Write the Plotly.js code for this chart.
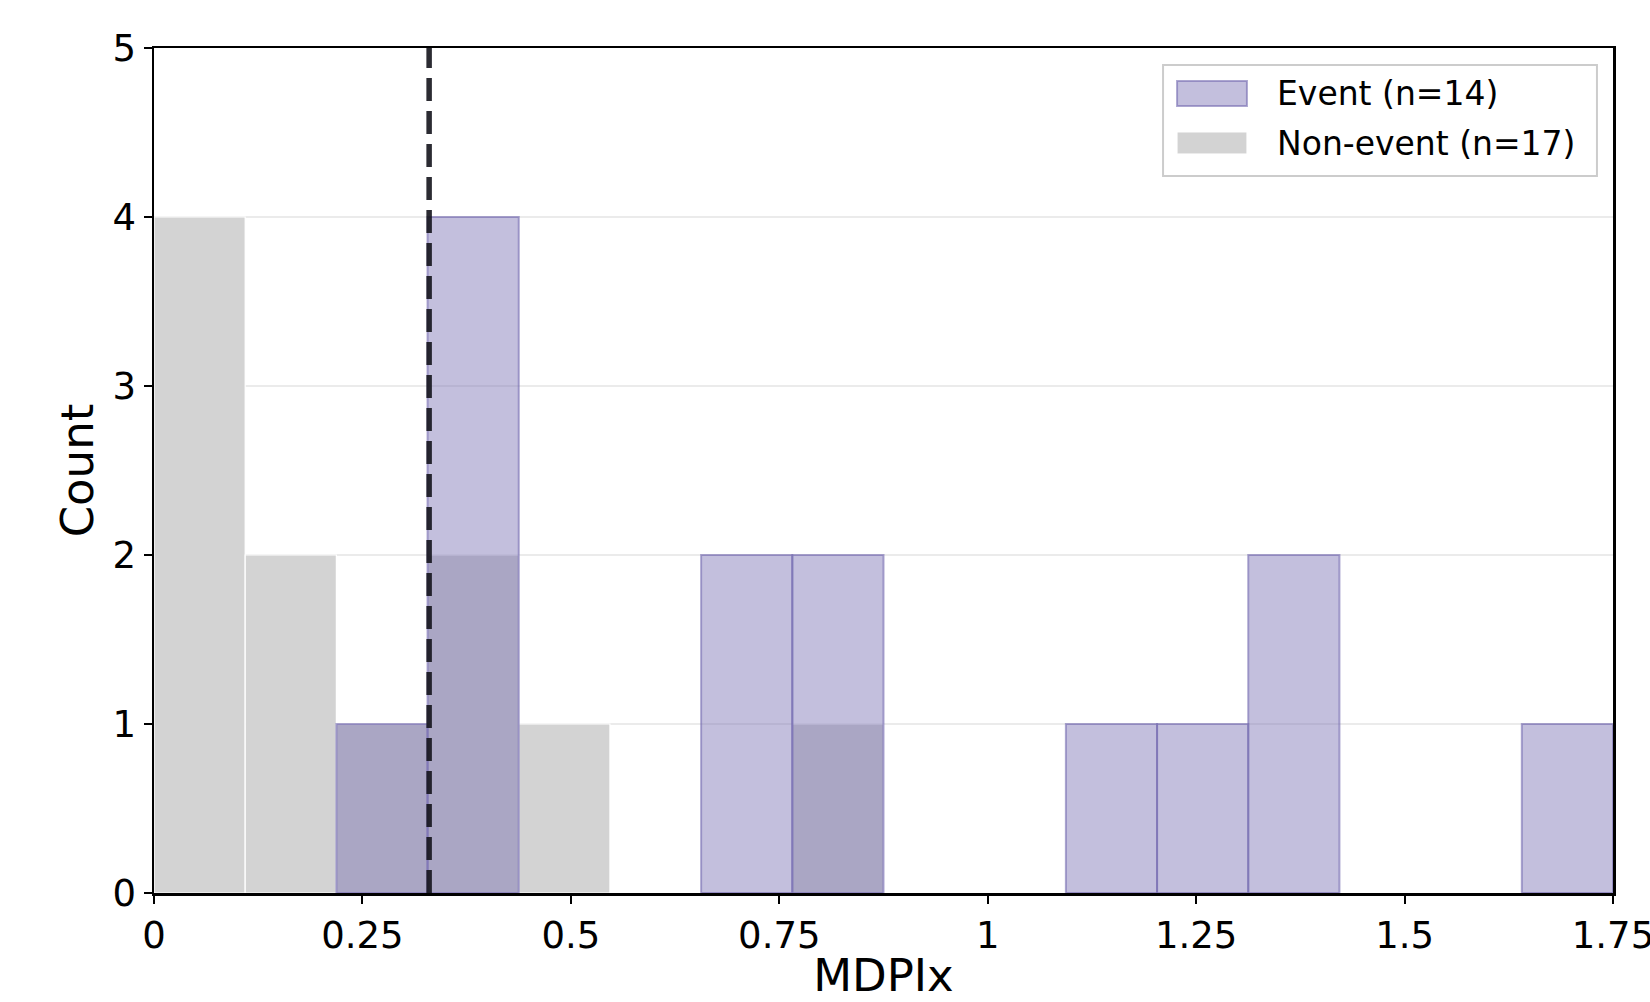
<!DOCTYPE html>
<html>
<head>
<meta charset="utf-8">
<script src="https://cdn.plot.ly/plotly-3.0.1.min.js"></script>
<style>
  html, body { margin: 0; padding: 0; background: #ffffff; }
  #chart { width: 1650px; height: 1002px; }
</style>
</head>
<body>
<div id="chart"></div>
<script>
// ---- data ----
const binWidth = 0.109375;            // 16 equal bins over [0, 1.75]
const eventCounts    = [0, 0, 1, 4, 0, 0, 2, 2, 0, 0, 1, 1, 2, 0, 0, 1];
const nonEventCounts = [4, 2, 1, 2, 1, 0, 0, 1, 0, 0, 0, 0, 0, 0, 0, 0];
const eventLabel = 'Event (n=14)';
const nonEventLabel = 'Non-event (n=17)';
const threshold = 0.33;
const xTickVals = [0, 0.25, 0.5, 0.75, 1, 1.25, 1.5, 1.75];
const xTickText = ['0', '0.25', '0.5', '0.75', '1', '1.25', '1.5', '1.75'];
const yTickVals = [0, 1, 2, 3, 4, 5];
const xTitle = 'MDPIx';
const yTitle = 'Count';

function barsFrom(counts) {
  const x = [], y = [];
  counts.forEach((c, i) => {
    if (c > 0) { x.push((i + 0.5) * binWidth); y.push(c); }
  });
  return {x, y};
}

const ne = barsFrom(nonEventCounts);
const ev = barsFrom(eventCounts);

const FONT = 'DejaVu Sans, sans-serif';
const EVENT_FILL = 'rgba(117,107,177,0.43)';
const EVENT_EDGE = 'rgba(117,107,177,0.6)';
const NONEVENT_FILL = '#d3d3d3';

const traces = [
  {
    type: 'bar', name: nonEventLabel, x: ne.x, y: ne.y, width: binWidth,
    marker: { color: NONEVENT_FILL, line: { color: '#ffffff', width: 1.2 } },
    hoverinfo: 'x+y', showlegend: false
  },
  {
    type: 'bar', name: eventLabel, x: ev.x, y: ev.y, width: binWidth,
    marker: { color: EVENT_FILL, line: { color: EVENT_EDGE, width: 2 } },
    hoverinfo: 'x+y', showlegend: false
  }
];

const layout = {
  width: 1650, height: 1002,
  paper_bgcolor: '#ffffff', plot_bgcolor: '#ffffff',
  margin: { l: 154, r: 37, t: 48, b: 109, pad: 0 },
  barmode: 'overlay', bargap: 0,
  font: { family: FONT, color: '#000000' },
  showlegend: false,
  xaxis: {
    range: [0, 1.75], tickvals: xTickVals, ticktext: xTickText,
    showgrid: false, zeroline: false,
    showline: true, linecolor: '#000000', linewidth: 2.5, mirror: true,
    ticks: 'outside', ticklen: 8, tickwidth: 2, tickcolor: '#000000',
    tickfont: { family: FONT, size: 37, color: '#000000' },
    ticklabeloverflow: 'allow',
    title: { text: xTitle, font: { family: FONT, size: 45, color: '#000000' }, standoff: 8 },
    automargin: false
  },
  yaxis: {
    range: [0, 5], tickvals: yTickVals,
    showgrid: true, gridcolor: '#ebebeb', gridwidth: 1.5, zeroline: false,
    showline: true, linecolor: '#000000', linewidth: 2.5, mirror: true,
    ticks: 'outside', ticklen: 8, tickwidth: 2, tickcolor: '#000000',
    tickfont: { family: FONT, size: 37, color: '#000000' },
    title: { text: yTitle, font: { family: FONT, size: 45, color: '#000000' }, standoff: 5 },
    automargin: false
  },
  shapes: [
    { type: 'line', xref: 'x', yref: 'paper', x0: threshold, x1: threshold, y0: 0, y1: 1,
      line: { color: 'rgba(20,20,28,0.9)', width: 5.5, dash: '23px,10px' }, layer: 'above' },
    // legend box
    { type: 'rect', xref: 'paper', yref: 'paper', x0: 0.6916, x1: 0.989, y0: 0.8485, y1: 0.980,
      line: { color: '#cccccc', width: 2 }, fillcolor: 'rgba(255,255,255,0.85)', layer: 'above' },
    // legend swatches
    { type: 'rect', xref: 'paper', yref: 'paper', x0: 0.7012, x1: 0.7491, y0: 0.9314, y1: 0.961,
      line: { color: EVENT_EDGE, width: 2 }, fillcolor: EVENT_FILL, layer: 'above' },
    { type: 'rect', xref: 'paper', yref: 'paper', x0: 0.7012, x1: 0.7491, y0: 0.8746, y1: 0.9006,
      line: { color: '#ffffff', width: 1 }, fillcolor: NONEVENT_FILL, layer: 'above' }
  ],
  annotations: [
    { xref: 'paper', yref: 'paper', x: 0.7683, y: 0.9456, xanchor: 'left', yanchor: 'middle',
      text: eventLabel, showarrow: false, font: { family: FONT, size: 33, color: '#000000' } },
    { xref: 'paper', yref: 'paper', x: 0.7683, y: 0.8864, xanchor: 'left', yanchor: 'middle',
      text: nonEventLabel, showarrow: false, font: { family: FONT, size: 33, color: '#000000' } }
  ]
};

Plotly.newPlot('chart', traces, layout, { displayModeBar: false, staticPlot: true });
</script>
</body>
</html>
